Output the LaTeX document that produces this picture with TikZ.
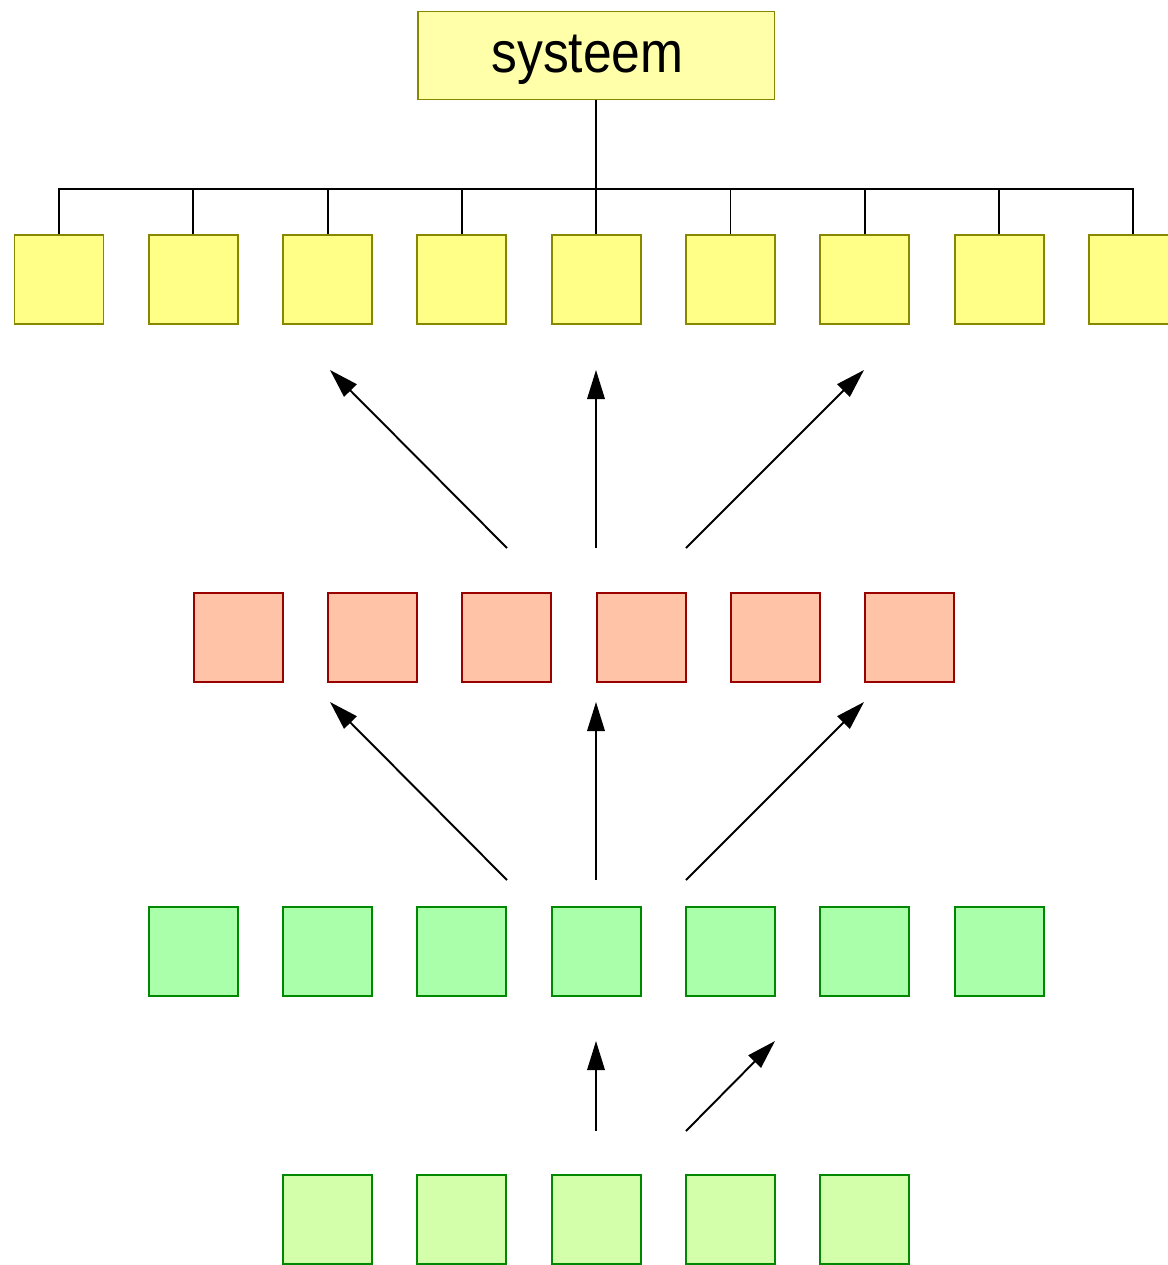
\documentclass[tikz,border=0pt]{standalone}
\usepackage{fontspec}
\setmainfont{Liberation Sans}
\usepackage{xcolor}
\usepackage{tikz}
\usetikzlibrary{arrows.meta,positioning,calc}
\definecolor{sysfill}{HTML}{FFFFAA}
\definecolor{yfill}{HTML}{FFFF88}
\definecolor{yline}{HTML}{888800}
\definecolor{rfill}{HTML}{FFC4A8}
\definecolor{rline}{HTML}{990000}
\definecolor{gfill}{HTML}{AAFFAA}
\definecolor{lgfill}{HTML}{D4FFAA}
\definecolor{gline}{HTML}{008800}
\tikzset{
  unitbox/.style={rectangle, minimum size=1.78cm, inner sep=0pt, line width=1.1pt},
  ybox/.style={unitbox, draw=yline, fill=yfill},
  rbox/.style={unitbox, draw=rline, fill=rfill},
  gbox/.style={unitbox, draw=gline, fill=gfill},
  lgbox/.style={unitbox, draw=gline, fill=lgfill},
  sysbox/.style={rectangle, draw=yline, fill=sysfill, line width=1.1pt, inner sep=0pt,
    minimum width=7.14cm, text height=1.224cm, text depth=0.536cm,
    font=\fontsize{33}{38}\selectfont},
  tree/.style={line width=1.1pt, black},
  uparrow/.style={line width=1.1pt, -{Triangle[length=5.8mm, width=3.5mm]}}
}
\begin{document}
\begin{tikzpicture}[x=0.02cm, y=-0.02cm]
\useasboundingbox (0,0) rectangle (1167,1265);

% Top: system box
\node[sysbox] (sys) at (596,55.5) {\scalebox{0.89}[1]{systeem}\hspace*{0.34cm}};

% Yellow row (parts of the system, the last one runs off the page)
\node[ybox] (y1) at (59,279.5) {};
\node[ybox] (y2) at (193.3,279.5) {};
\node[ybox] (y3) at (327.6,279.5) {};
\node[ybox] (y4) at (461.9,279.5) {};
\node[ybox] (y5) at (596.2,279.5) {};
\node[ybox] (y6) at (730.5,279.5) {};
\node[ybox] (y7) at (864.8,279.5) {};
\node[ybox] (y8) at (999.1,279.5) {};
\node[ybox] (y9) at (1133.4,279.5) {};

% Tree from the system box down to the yellow row
\coordinate (bus) at (596,189);
\draw[tree] (sys.south) -- (bus);
\draw[tree] (y1.north) |- (bus) -| (y9.north);
\draw[tree] (y2.north) -- (y2.north |- bus);
\draw[tree] (y3.north) -- (y3.north |- bus);
\draw[tree] (y4.north) -- (y4.north |- bus);
\draw[tree] (y5.north) -- (y5.north |- bus);
\draw[tree] (y6.north) -- (y6.north |- bus);
\draw[tree] (y7.north) -- (y7.north |- bus);
\draw[tree] (y8.north) -- (y8.north |- bus);

% Red row
\node[rbox] (r1) at (238.2,637.5) {};
\node[rbox] (r2) at (372.5,637.5) {};
\node[rbox] (r3) at (506.8,637.5) {};
\node[rbox] (r4) at (641.1,637.5) {};
\node[rbox] (r5) at (775.4,637.5) {};
\node[rbox] (r6) at (909.7,637.5) {};

% Green row
\node[gbox] (g1) at (193.3,951.5) {};
\node[gbox] (g2) at (327.6,951.5) {};
\node[gbox] (g3) at (461.9,951.5) {};
\node[gbox] (g4) at (596.2,951.5) {};
\node[gbox] (g5) at (730.5,951.5) {};
\node[gbox] (g6) at (864.8,951.5) {};
\node[gbox] (g7) at (999.1,951.5) {};

% Light green row
\node[lgbox] (lg1) at (327.6,1219.5) {};
\node[lgbox] (lg2) at (461.9,1219.5) {};
\node[lgbox] (lg3) at (596.2,1219.5) {};
\node[lgbox] (lg4) at (730.5,1219.5) {};
\node[lgbox] (lg5) at (864.8,1219.5) {};

% Arrows red -> yellow
\coordinate (RYfromL) at (507,548);  \coordinate (RYtoL) at (330,370);
\coordinate (RYfromM) at (596,548);  \coordinate (RYtoM) at (596,370);
\coordinate (RYfromR) at (686,548);  \coordinate (RYtoR) at (864,370);
\draw[uparrow] (RYfromL) -- (RYtoL);
\draw[uparrow] (RYfromM) -- (RYtoM);
\draw[uparrow] (RYfromR) -- (RYtoR);

% Arrows green -> red
\coordinate (GRfromL) at (507,880);  \coordinate (GRtoL) at (330,702);
\coordinate (GRfromM) at (596,880);  \coordinate (GRtoM) at (596,702);
\coordinate (GRfromR) at (686,880);  \coordinate (GRtoR) at (864,702);
\draw[uparrow] (GRfromL) -- (GRtoL);
\draw[uparrow] (GRfromM) -- (GRtoM);
\draw[uparrow] (GRfromR) -- (GRtoR);

% Arrows light green -> green
\coordinate (LGfromM) at (596,1131); \coordinate (LGtoM) at (596,1041);
\coordinate (LGfromR) at (686,1131); \coordinate (LGtoR) at (775,1041);
\draw[uparrow] (LGfromM) -- (LGtoM);
\draw[uparrow] (LGfromR) -- (LGtoR);

\end{tikzpicture}
\end{document}
